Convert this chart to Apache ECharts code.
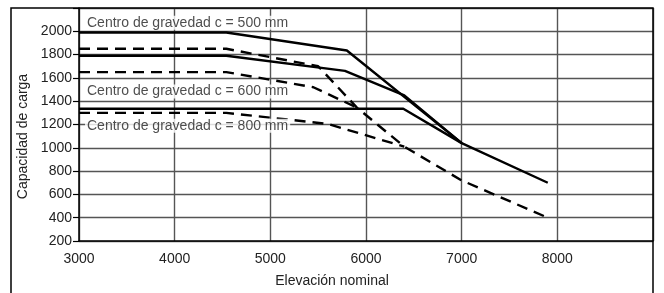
<!DOCTYPE html>
<html>
<head>
<meta charset="utf-8">
<script src="https://cdn.jsdelivr.net/npm/echarts@6/dist/echarts.min.js"></script>
<style>
  html, body { margin: 0; padding: 0; background: #fff; }
  #chart { width: 664px; height: 293px; }
</style>
</head>
<body>
<div id="chart"></div>
<script>
// tick labels
const xTicks = [3000, 4000, 5000, 6000, 7000, 8000]
const yTicks = [200, 400, 600, 800, 1000, 1200, 1400, 1600, 1800, 2000]

// [elevación, capacidad]
const solidUpper = [[3000, 1990], [4540, 1990], [5800, 1835], [7000, 1040], [7900, 700]]
const solidMiddle = [[3000, 1790], [4540, 1790], [5780, 1660], [6400, 1450], [7000, 1040]]
const solidLower = [[3000, 1335], [6390, 1335], [7000, 1040]]
const dashedUpper = [[3000, 1850], [4540, 1850], [5500, 1700], [5905, 1345], [6400, 1010], [7000, 720], [7900, 400]]
const dashedMiddle = [[3000, 1650], [4540, 1650], [5450, 1520], [5905, 1345]]
const dashedLower = [[3000, 1300], [4540, 1300], [5600, 1205], [6400, 1010]]

// curve captions, anchored at the left edge of the plot
const captionTexts = ['Centro de gravedad c = 500 mm', 'Centro de gravedad c = 600 mm', 'Centro de gravedad c = 800 mm']
const captionLevels = [2074, 1484, 1190]

const FONT = '"Liberation Sans", Arial, sans-serif'
const TEXT = '#222'

function curve(data, dashed) {
  return {
    type: 'line',
    data: data,
    showSymbol: false,
    silent: true,
    animation: false,
    lineStyle: { color: '#000', width: 2.4, type: dashed ? [11, 7] : 'solid' }
  }
}

const chart = echarts.init(document.getElementById('chart'))

chart.setOption({
  backgroundColor: '#fff',
  animation: false,
  grid: { left: 79, right: 11, top: 8, bottom: 46 },
  xAxis: {
    type: 'value',
    min: 3000,
    max: 9000,
    interval: 1000,
    name: 'Elevación nominal',
    nameLocation: 'middle',
    nameGap: 33,
    nameTextStyle: { fontFamily: FONT, fontSize: 14, color: TEXT, padding: [0, 68, 0, 0] },
    axisLine: { lineStyle: { color: '#000', width: 1.5 } },
    axisTick: { show: false },
    axisLabel: {
      fontFamily: FONT, fontSize: 14, color: TEXT, margin: 11,
      formatter: v => xTicks.includes(v) ? String(v) : ''
    },
    splitLine: { lineStyle: { color: '#555', width: 1.4 } }
  },
  yAxis: {
    type: 'value',
    min: 200,
    max: 2200,
    interval: 200,
    name: 'Capacidad de carga',
    nameLocation: 'middle',
    nameGap: 45,
    nameTextStyle: { fontFamily: FONT, fontSize: 14, color: TEXT, padding: [0, 24, 0, 0] },
    axisLine: { show: true, lineStyle: { color: '#000', width: 1.5 } },
    axisTick: { show: true, length: 6, lineStyle: { color: '#000', width: 1.2 } },
    axisLabel: {
      fontFamily: FONT, fontSize: 14, color: TEXT, margin: 7,
      formatter: v => yTicks.includes(v) ? String(v) : ''
    },
    splitLine: { lineStyle: { color: '#555', width: 1.4 } }
  },
  graphic: [{
    type: 'rect',
    shape: { x: 11, y: 8, width: 642, height: 300 },
    style: { fill: 'none', stroke: '#000', lineWidth: 1.5 },
    z: 10,
    silent: true
  }],
  series: [
    {
      type: 'scatter',
      data: captionLevels.map((v, i) => ({ value: [3000, v], name: captionTexts[i] })),
      symbolSize: 0,
      silent: true,
      z: 3,
      label: {
        show: true,
        position: 'right',
        distance: 6,
        formatter: p => p.name,
        fontFamily: FONT,
        fontSize: 14,
        color: TEXT,
        backgroundColor: '#fff',
        padding: [0, 2, 0, 2]
      }
    },
    curve(solidUpper, false),
    curve(solidMiddle, false),
    curve(solidLower, false),
    curve(dashedUpper, true),
    curve(dashedMiddle, true),
    curve(dashedLower, true)
  ]
})
</script>
</body>
</html>
